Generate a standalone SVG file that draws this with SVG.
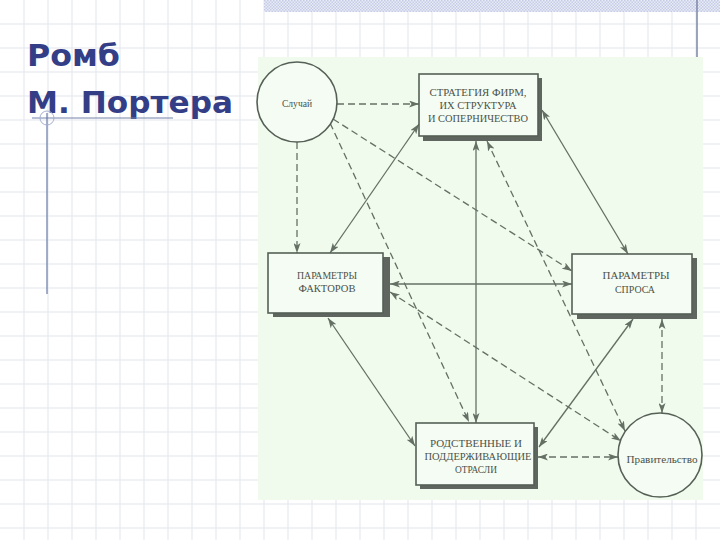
<svg xmlns="http://www.w3.org/2000/svg" width="720" height="540" viewBox="0 0 720 540">
<style>
.grid line{stroke:#e3e5ed;stroke-width:1}
.title{font-family:"DejaVu Sans","Verdana",sans-serif;font-weight:bold;font-size:31px;fill:#343e86}
.box{fill:#f5fcf3;stroke:#566056;stroke-width:1.6}
.shadow{fill:#5f665f}
.circ{fill:#f5fcf3;stroke:#566056;stroke-width:1.6}
.lbl{font-family:"Liberation Serif","Times New Roman",serif;font-size:9.5px;fill:#4a524a;text-anchor:middle}
.con line{stroke:#657065;stroke-width:1.3;fill:none}
.con .d{stroke-dasharray:7 4}
.con .b{marker-start:url(#ah);marker-end:url(#ah)}
.con .e{marker-end:url(#ah)}
</style>
<defs>
<pattern id="dots" width="3" height="3" patternUnits="userSpaceOnUse">
<rect width="3" height="3" fill="#e9ebf7"/>
<rect width="1.5" height="1.5" fill="#c6cbe6"/>
<rect x="1.5" y="1.5" width="1.5" height="1.5" fill="#c6cbe6"/>
</pattern>
<marker id="ah" viewBox="0 0 10 7" refX="10" refY="3.5" markerWidth="10" markerHeight="7" markerUnits="userSpaceOnUse" orient="auto-start-reverse">
<path d="M0,0 L10,3.5 L0,7 L2.5,3.5 z" fill="#657065"/>
</marker>
</defs>
<rect width="720" height="540" fill="#ffffff"/>
<g class="grid">
<line x1="24" y1="0" x2="24" y2="540"/><line x1="48" y1="0" x2="48" y2="540"/><line x1="72" y1="0" x2="72" y2="540"/><line x1="96" y1="0" x2="96" y2="540"/><line x1="120" y1="0" x2="120" y2="540"/><line x1="144" y1="0" x2="144" y2="540"/><line x1="168" y1="0" x2="168" y2="540"/><line x1="192" y1="0" x2="192" y2="540"/><line x1="216" y1="0" x2="216" y2="540"/><line x1="240" y1="0" x2="240" y2="540"/><line x1="264" y1="0" x2="264" y2="540"/><line x1="288" y1="0" x2="288" y2="540"/><line x1="312" y1="0" x2="312" y2="540"/><line x1="336" y1="0" x2="336" y2="540"/><line x1="360" y1="0" x2="360" y2="540"/><line x1="384" y1="0" x2="384" y2="540"/><line x1="408" y1="0" x2="408" y2="540"/><line x1="432" y1="0" x2="432" y2="540"/><line x1="456" y1="0" x2="456" y2="540"/><line x1="480" y1="0" x2="480" y2="540"/><line x1="504" y1="0" x2="504" y2="540"/><line x1="528" y1="0" x2="528" y2="540"/><line x1="552" y1="0" x2="552" y2="540"/><line x1="576" y1="0" x2="576" y2="540"/><line x1="600" y1="0" x2="600" y2="540"/><line x1="624" y1="0" x2="624" y2="540"/><line x1="648" y1="0" x2="648" y2="540"/><line x1="672" y1="0" x2="672" y2="540"/><line x1="696" y1="0" x2="696" y2="540"/>
<line x1="0" y1="24" x2="720" y2="24"/><line x1="0" y1="48" x2="720" y2="48"/><line x1="0" y1="72" x2="720" y2="72"/><line x1="0" y1="96" x2="720" y2="96"/><line x1="0" y1="120" x2="720" y2="120"/><line x1="0" y1="144" x2="720" y2="144"/><line x1="0" y1="168" x2="720" y2="168"/><line x1="0" y1="192" x2="720" y2="192"/><line x1="0" y1="216" x2="720" y2="216"/><line x1="0" y1="240" x2="720" y2="240"/><line x1="0" y1="264" x2="720" y2="264"/><line x1="0" y1="288" x2="720" y2="288"/><line x1="0" y1="312" x2="720" y2="312"/><line x1="0" y1="336" x2="720" y2="336"/><line x1="0" y1="360" x2="720" y2="360"/><line x1="0" y1="384" x2="720" y2="384"/><line x1="0" y1="408" x2="720" y2="408"/><line x1="0" y1="432" x2="720" y2="432"/><line x1="0" y1="456" x2="720" y2="456"/><line x1="0" y1="480" x2="720" y2="480"/><line x1="0" y1="504" x2="720" y2="504"/><line x1="0" y1="528" x2="720" y2="528"/>
</g>
<rect x="264" y="0" width="456" height="12" fill="url(#dots)"/>
<line x1="697" y1="0" x2="697" y2="186" stroke="#7c86a6" stroke-width="1.5"/>
<g id="title">
<text class="title" x="27" y="66" textLength="93" lengthAdjust="spacingAndGlyphs">Ромб</text>
<text class="title" x="27" y="113" textLength="206" lengthAdjust="spacingAndGlyphs">М. Портера</text>
<line x1="32" y1="118" x2="173" y2="118" stroke="#7482aa" stroke-width="1"/>
<line x1="47" y1="113" x2="47" y2="294" stroke="#6878a8" stroke-width="1.2"/>
<circle cx="47" cy="118" r="7" fill="none" stroke="#a4b0d0" stroke-width="1"/>
</g>
<rect x="258" y="57" width="445" height="443" fill="#f0fbed"/>
<g class="con" id="connectors">
<line class="d e" x1="337" y1="104" x2="419" y2="104"/>
<line class="d e" x1="297" y1="142" x2="297" y2="253"/>
<line class="d e" x1="333" y1="119" x2="572" y2="271"/>
<line class="d e" x1="330" y1="123" x2="469" y2="422"/>
<line class="b" x1="330" y1="253" x2="419" y2="124"/>
<line class="b" x1="542" y1="110" x2="628" y2="254"/>
<line class="b" x1="390" y1="284" x2="572" y2="284"/>
<line class="b" x1="476" y1="141" x2="476" y2="423"/>
<line class="d b" x1="487" y1="141" x2="625" y2="431"/>
<line class="d b" x1="390" y1="292" x2="621" y2="441"/>
<line class="d b" x1="538" y1="457" x2="618" y2="457"/>
<line class="d b" x1="662" y1="319" x2="662" y2="413"/>
<line class="b" x1="539" y1="447" x2="633" y2="319"/>
<line class="b" x1="328" y1="318" x2="415" y2="446"/>
</g>
<g id="sluchai">
<circle class="circ" cx="297" cy="102" r="40"/>
<text class="lbl" x="297" y="107" textLength="30" lengthAdjust="spacingAndGlyphs">Случай</text>
</g>
<g id="strategy">
<rect class="shadow" x="423" y="78" width="119" height="63"/>
<rect class="box" x="419" y="74" width="119" height="62"/>
<text class="lbl" x="478" y="95.5" textLength="97" lengthAdjust="spacingAndGlyphs">СТРАТЕГИЯ ФИРМ,</text>
<text class="lbl" x="478" y="109" textLength="77" lengthAdjust="spacingAndGlyphs">ИХ СТРУКТУРА</text>
<text class="lbl" x="478" y="122" textLength="100" lengthAdjust="spacingAndGlyphs">И СОПЕРНИЧЕСТВО</text>
</g>
<g id="factors">
<rect class="shadow" x="273" y="257" width="117" height="60"/>
<rect class="box" x="268" y="253" width="115" height="60"/>
<text class="lbl" x="327" y="278.5" textLength="60" lengthAdjust="spacingAndGlyphs">ПАРАМЕТРЫ</text>
<text class="lbl" x="327" y="291.7" textLength="57" lengthAdjust="spacingAndGlyphs">ФАКТОРОВ</text>
</g>
<g id="demand">
<rect class="shadow" x="577" y="258" width="120" height="61"/>
<rect class="box" x="572" y="254" width="120" height="60"/>
<text class="lbl" x="636" y="279" textLength="67" lengthAdjust="spacingAndGlyphs">ПАРАМЕТРЫ</text>
<text class="lbl" x="635" y="293" textLength="40" lengthAdjust="spacingAndGlyphs">СПРОСА</text>
</g>
<g id="related">
<rect class="shadow" x="420" y="427" width="118" height="62"/>
<rect class="box" x="416" y="423" width="118" height="62"/>
<text class="lbl" x="476" y="446.5" textLength="92" lengthAdjust="spacingAndGlyphs">РОДСТВЕННЫЕ И</text>
<text class="lbl" x="478" y="459.5" textLength="107" lengthAdjust="spacingAndGlyphs">ПОДДЕРЖИВАЮЩИЕ</text>
<text class="lbl" x="476" y="472.5" textLength="42" lengthAdjust="spacingAndGlyphs">ОТРАСЛИ</text>
</g>
<g id="government">
<circle class="circ" cx="660" cy="455" r="42"/>
<text class="lbl" x="662" y="463" textLength="71" lengthAdjust="spacingAndGlyphs">Правительство</text>
</g>
</svg>
